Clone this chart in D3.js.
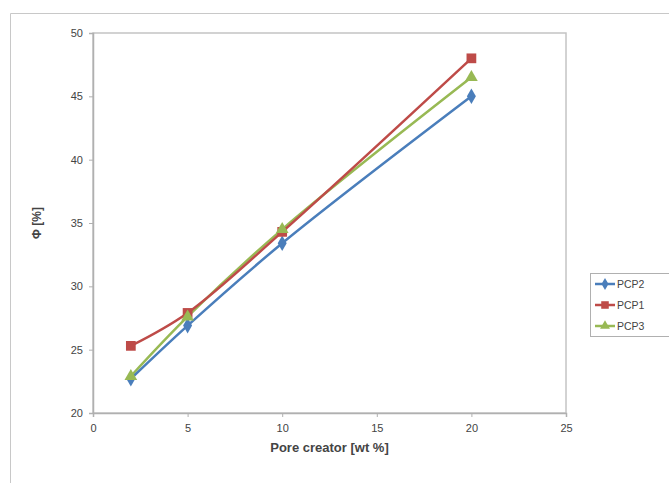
<!DOCTYPE html>
<html><head><meta charset="utf-8">
<script src="https://cdn.jsdelivr.net/npm/d3@7"></script>
<style>body{margin:0;background:#fff;}svg{display:block;font-family:"Liberation Sans",Arial,sans-serif;}</style>
</head><body>
<svg id="c" width="669" height="483"></svg>
<script>
const xValues = [2, 5, 10, 20];
const seriesNames = ["PCP2", "PCP1", "PCP3"];
const pcp2 = [22.7, 26.9, 33.4, 45.0];
const pcp1 = [25.3, 27.9, 34.3, 48.0];
const pcp3 = [22.9, 27.6, 34.5, 46.5];
const xTicks = [0, 5, 10, 15, 20, 25];
const yTicks = [20, 25, 30, 35, 40, 45, 50];

const colors = {PCP2: "#4a7ebb", PCP1: "#be4b48", PCP3: "#98b954"};
const symbols = {PCP2: d3.symbolDiamond, PCP1: d3.symbolSquare, PCP3: d3.symbolTriangle};
const symSize = {PCP2: 70, PCP1: 95, PCP3: 70};
const values = {PCP2: pcp2, PCP1: pcp1, PCP3: pcp3};

const svg = d3.select("#c");
svg.append("path").attr("d", "M10.5,483 V13.5 H669").attr("fill", "none").attr("stroke", "#c8c8c8").attr("stroke-width", 1);

const L = 93, R = 566, T = 33, B = 413;
const x = d3.scaleLinear().domain([0, 25]).range([L, R]);
const y = d3.scaleLinear().domain([20, 50]).range([B, T]);

svg.append("rect").attr("x", L).attr("y", T).attr("width", R - L).attr("height", B - T)
  .attr("fill", "#fff").attr("stroke", "#c4c4c4").attr("stroke-width", 1.5);

const gx = svg.append("g").attr("transform", `translate(0,${B})`)
  .call(d3.axisBottom(x).tickValues(xTicks).tickSize(4).tickPadding(7));
const gy = svg.append("g").attr("transform", `translate(${L},0)`)
  .call(d3.axisLeft(y).tickValues(yTicks).tickSize(4).tickPadding(6));
[gx, gy].forEach(g => {
  g.select(".domain").attr("stroke", "#b0b0b0").attr("stroke-width", 1.5);
  g.selectAll(".tick line").attr("stroke", "#b0b0b0");
  g.selectAll(".tick text").attr("fill", "#444").attr("font-size", 11);
});

svg.append("text").attr("x", (L + R) / 2).attr("y", 452).attr("text-anchor", "middle")
  .attr("font-size", 13).attr("font-weight", "bold").attr("fill", "#444").text("Pore creator [wt %]");
svg.append("text").attr("transform", `translate(41,${(T + B) / 2}) rotate(-90)`).attr("text-anchor", "middle")
  .attr("font-size", 12).attr("font-weight", "bold").attr("fill", "#444").text("Φ [%]");

const line = d3.line().x((d, i) => x(xValues[i])).y(d => y(d)).curve(d3.curveCatmullRom.alpha(0.5));
seriesNames.slice().reverse().forEach(name => {
  svg.append("path").datum(values[name]).attr("d", line).attr("fill", "none")
    .attr("stroke", colors[name]).attr("stroke-width", 2.5);
});
seriesNames.forEach(name => {
  svg.selectAll(null).data(values[name]).enter().append("path")
    .attr("transform", (d, i) => `translate(${x(xValues[i])},${y(d)})`)
    .attr("d", d3.symbol().type(symbols[name]).size(symSize[name]))
    .attr("fill", colors[name]);
});

const lg = svg.append("g");
lg.append("rect").attr("x", 590.5).attr("y", 273.5).attr("width", 90).attr("height", 63)
  .attr("fill", "#fff").attr("stroke", "#b0b0b0");
seriesNames.forEach((name, i) => {
  const yy = 284 + i * 21;
  lg.append("line").attr("x1", 595).attr("x2", 615).attr("y1", yy).attr("y2", yy)
    .attr("stroke", colors[name]).attr("stroke-width", 2.5);
  lg.append("path").attr("transform", `translate(605,${yy})`)
    .attr("d", d3.symbol().type(symbols[name]).size(symSize[name] * 0.6)).attr("fill", colors[name]);
  lg.append("text").attr("x", 617).attr("y", yy + 4).attr("font-size", 10.5).attr("fill", "#444").text(name);
});
</script>
</body></html>
